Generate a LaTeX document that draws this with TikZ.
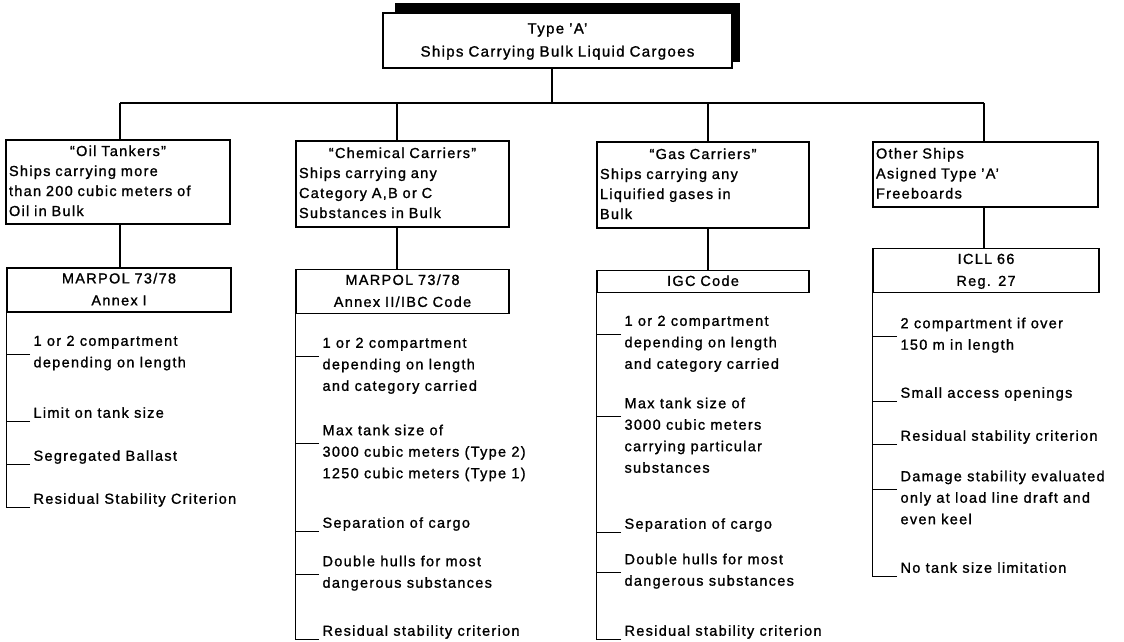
\documentclass[tikz,border=0pt]{standalone}
\usepackage{fontspec}
\setmainfont{Liberation Sans}[LetterSpace=9, FakeBold=1.2]
\newcommand\ctrline[1]{\hfill#1\hfill\null}
\begin{document}
\begin{tikzpicture}[x=1pt, y=-1pt, line width=1.1pt,
  box/.style={draw, fill=white, inner xsep=3pt, inner ysep=0pt, align=left,
    font=\fontsize{14.5}{20}\selectfont, execute at begin node=\strut, execute at end node=\strut},
  law/.style={draw, fill=white, inner xsep=3pt, inner ysep=0pt, align=center,
    font=\fontsize{14.5}{22}\selectfont, execute at begin node=\strut, execute at end node=\strut},
  item/.style={anchor=north west, inner sep=0pt, align=left, yshift=9.85pt,
    font=\fontsize{14.5}{21.5}\selectfont, execute at begin node=\strut},
  tk/.style={shift={(-3pt,-19.35pt)}}]
\useasboundingbox (0,0) rectangle (1124,642);
\fill (395,3) rectangle (740,62);
\node[draw, fill=white, inner xsep=3pt, inner ysep=0pt, align=center, text width=343pt, minimum height=55pt,
  font=\fontsize{15}{23}\selectfont, execute at begin node=\strut, execute at end node=\strut]
  (top) at (557.5,40.5) {Type 'A'\\Ships Carrying Bulk Liquid Cargoes};
\node[box, text width=218pt, minimum height=84pt] (oil) at (118,182) {\ctrline{“Oil Tankers”}\\Ships carrying more\\than 200 cubic meters of\\Oil in Bulk};
\node[box, text width=207pt, minimum height=86pt] (chem) at (402.5,184) {\ctrline{“Chemical Carriers”}\\Ships carrying any\\Category A,B or C\\Substances in Bulk};
\node[box, text width=206pt, minimum height=86pt] (gas) at (703,185) {\ctrline{“Gas Carriers”}\\Ships carrying any\\Liquified gases in\\Bulk};
\node[box, text width=219pt, minimum height=65pt] (other) at (985.5,174.5) {Other Ships\\Asigned Type 'A'\\Freeboards};
\node[law, text width=218pt, minimum height=44pt] (annexI) at (119,290) {MARPOL 73/78\\Annex I};
\node[law, text width=207pt, minimum height=43pt] (annexII) at (402.5,291.5) {MARPOL 73/78\\Annex II/IBC Code};
\node[law, text width=206pt, minimum height=21pt] (igc) at (703,281.5) {IGC Code};
\node[law, text width=220pt, minimum height=43pt] (icll) at (986,270.5) {ICLL 66\\Reg. 27};
\coordinate (hub) at (552,103);
\coordinate (d1) at (120,103);
\coordinate (d2) at (397,103);
\coordinate (d3) at (708,103);
\coordinate (d4) at (984,103);
\draw (hub |- top.south) -- (hub);
\draw (d1) -- (d4);
\draw (d1) -- (d1 |- oil.north);
\draw (d2) -- (d2 |- chem.north);
\draw (d3) -- (d3 |- gas.north);
\draw (d4) -- (d4 |- other.north);
\draw (d1 |- oil.south) -- (d1 |- annexI.north);
\draw (d2 |- chem.south) -- (d2 |- annexII.north);
\draw (d3 |- gas.south) -- (d3 |- igc.north);
\draw (d4 |- other.south) -- (d4 |- icll.north);
\node[item] (o1) at (33,345) {1 or 2 compartment\\depending on length};
\node[item] (o2) at (33,412) {Limit on tank size};
\node[item] (o3) at (33,455) {Segregated Ballast};
\node[item] (o4) at (33,498) {Residual Stability Criterion};
\foreach \n in {o1,o2,o3,o4}{
  \coordinate (k) at ([tk]\n.north west);
  \draw (k) -- (k -| annexI.south west);
}
\draw (annexI.south west) -- (annexI.south west |- k);
\node[item] (c1) at (322,347) {1 or 2 compartment\\depending on length\\and category carried};
\node[item] (c2) at (322,434) {Max tank size of\\3000 cubic meters (Type 2)\\1250 cubic meters (Type 1)};
\node[item] (c3) at (322,522) {Separation of cargo};
\node[item] (c4) at (322,565) {Double hulls for most\\dangerous substances};
\node[item] (c5) at (322,630) {Residual stability criterion};
\foreach \n in {c1,c2,c3,c4,c5}{
  \coordinate (k) at ([tk]\n.north west);
  \draw (k) -- (k -| annexII.south west);
}
\draw (annexII.south west) -- (annexII.south west |- k);
\node[item] (g1) at (624,325) {1 or 2 compartment\\depending on length\\and category carried};
\node[item] (g2) at (624,407) {Max tank size of\\3000 cubic meters\\carrying particular\\substances};
\node[item] (g3) at (624,523) {Separation of cargo};
\node[item] (g4) at (624,563) {Double hulls for most\\dangerous substances};
\node[item] (g5) at (624,630) {Residual stability criterion};
\foreach \n in {g1,g2,g3,g4,g5}{
  \coordinate (k) at ([tk]\n.north west);
  \draw (k) -- (k -| igc.south west);
}
\draw (igc.south west) -- (igc.south west |- k);
\node[item] (x1) at (900,327) {2 compartment if over\\150 m in length};
\node[item] (x2) at (900,392) {Small access openings};
\node[item] (x3) at (900,435) {Residual stability criterion};
\node[item] (x4) at (900,480) {Damage stability evaluated\\only at load line draft and\\even keel};
\node[item] (x5) at (900,567) {No tank size limitation};
\foreach \n in {x1,x2,x3,x4,x5}{
  \coordinate (k) at ([tk]\n.north west);
  \draw (k) -- (k -| icll.south west);
}
\draw (icll.south west) -- (icll.south west |- k);
\end{tikzpicture}
\end{document}
